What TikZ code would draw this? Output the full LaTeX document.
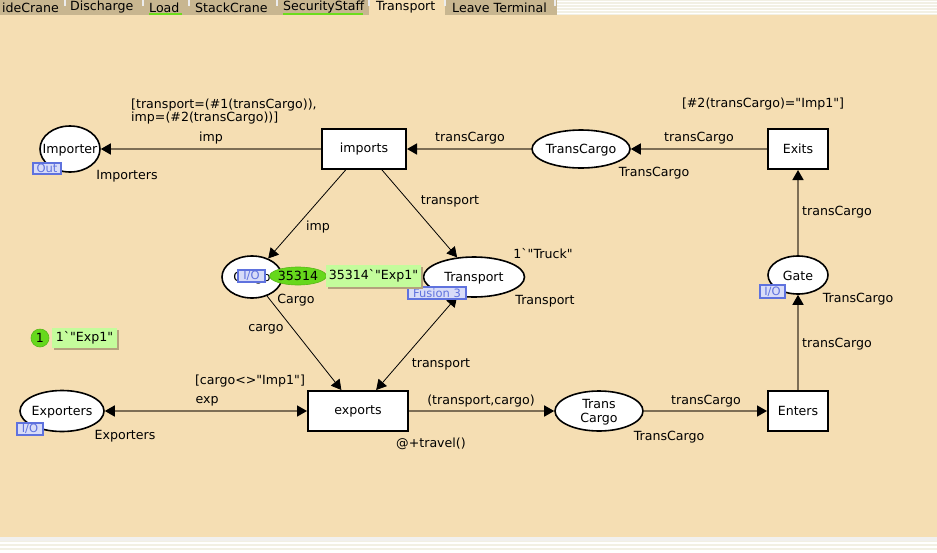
\documentclass[tikz,border=0pt]{standalone}
\usepackage{fontspec}
\setmainfont{DejaVu Sans}[Ligatures=TeXOff]
\usetikzlibrary{shapes.geometric,arrows.meta,shadows}
\definecolor{canvas}{HTML}{F5DEB3}
\definecolor{tabc}{HTML}{C8B690}
\definecolor{stripe}{HTML}{F2F0E4}
\definecolor{arcgrey}{HTML}{7D6E55}
\definecolor{tagfill}{HTML}{D8DCF8}
\definecolor{tagblue}{HTML}{5F72DE}
\definecolor{tokgreen}{HTML}{66D81C}
\definecolor{tokbox}{HTML}{C4FC9C}
\definecolor{shadowc}{HTML}{B4A27C}
\definecolor{tabline}{HTML}{6CDC1C}
\begin{document}
\begin{tikzpicture}[x=1pt,y=-1pt,
  font=\fontsize{12.6}{15}\selectfont,
  place/.style={ellipse,draw=black,line width=1.6pt,fill=white,inner sep=0pt},
  trans/.style={rectangle,draw=black,line width=2pt,fill=white,inner sep=0pt},
  txt/.style={inner sep=0pt,text=black},
  tag/.style={fill=tagfill,draw=tagblue,text=tagblue,line width=1.2pt,inner sep=0pt,
    font=\fontsize{11.5}{13}\selectfont},
  harc/.style={draw=arcgrey,line width=1.6pt},
  darc/.style={draw=black,line width=0.8pt},
  head/.tip={Triangle[length=10pt,width=11pt,color=black]},
  token/.style={fill=tokgreen,draw=tokgreen!85!black,line width=0.6pt,inner sep=0pt},
  tokenbox/.style={fill=tokbox,inner sep=0pt,
    drop shadow={shadow xshift=2pt,shadow yshift=-2pt,fill=shadowc,opacity=1}},
  tablabel/.style={inner sep=0pt,anchor=west}
]
\useasboundingbox (0,0) rectangle (937,552);
% canvas
\fill[canvas] (0,0) rectangle (937,552);
% tab bar
\fill[tabc] (0,0) rectangle (557,15);
\fill[canvas] (369,0) rectangle (445,15);
\fill[stripe] (557,0) rectangle (937,15);
\foreach \yy in {1,4,7,10,13} \fill[white] (557,\yy) rectangle (937,\yy+1);
\foreach \xx in {65,143,189,277,369,445,555}
  \draw[white!85!gray,line width=1.4pt] (\xx,0) -- (\xx,6);
\node[tablabel] (tab1) at (2,7.5) {ideCrane};
\node[tablabel] (tab2) at (70,7.5) {Discharge};
\node[tablabel] (tab3) at (149,7.5) {Load};
\node[tablabel] (tab4) at (195,7.5) {StackCrane};
\node[tablabel] (tab5) at (283,7.5) {SecurityStaff};
\node[tablabel] (tab6) at (376,7.5) {Transport};
\node[tablabel] (tab7) at (452,7.5) {Leave Terminal};
\draw[tabline,line width=1.3pt] (149,14) -- (182,14);
\draw[tabline,line width=1.3pt] (283,14) -- (363,14);
% bottom strip
\fill[stripe!70!gray!30!white] (0,537) rectangle (937,541);
\fill[stripe] (0,541) rectangle (937,552);
\foreach \yy in {542,546,550} \fill[white] (0,\yy) rectangle (937,\yy+1.5);

% places
\node[place,minimum width=60pt,minimum height=46pt] (importer) at (70,149) {};
\node[txt] (importer-t) at (70,150) {Importer};
\node[place,minimum width=98pt,minimum height=38pt] (tcup) at (581,149) {};
\node[txt] (tcup-t) at (581,150) {TransCargo};
\node[place,minimum width=60pt,minimum height=38pt] (gate) at (798,275) {};
\node[txt] (gate-t) at (798,276) {Gate};
\node[place,minimum width=88pt,minimum height=40pt] (tcdown) at (599,411) {};
\node[txt,align=center,font=\fontsize{12.6}{13.5}\selectfont] (tcdown-t) at (599,412) {Trans\\Cargo};
\node[place,minimum width=84pt,minimum height=41pt] (exporters) at (62,411) {};
\node[txt] (exporters-t) at (62,412) {Exporters};
\node[place,minimum width=60pt,minimum height=42pt] (cargo) at (252,277) {};
\node[txt] (cargo-t) at (252,278) {Cargo};
\node[place,minimum width=101pt,minimum height=40pt] (transport) at (474,277) {};
\node[txt] (transport-t) at (474,278) {Transport};

% transitions
\node[trans,minimum width=84pt,minimum height=40pt] (imports) at (364,149) {imports};
\node[trans,minimum width=60pt,minimum height=40pt] (exits) at (798,149) {Exits};
\node[trans,minimum width=60pt,minimum height=40pt] (enters) at (798,411) {Enters};
\node[trans,minimum width=100pt,minimum height=40pt] (exports) at (358,411) {exports};

% arcs
\draw[harc,-head] (imports) -- (importer);
\draw[harc,-head] (tcup) -- (imports);
\draw[harc,-head] (exits) -- (tcup);
\draw[harc,-head] (gate) -- (exits);
\draw[harc,-head] (enters) -- (gate);
\draw[harc,-head] (tcdown) -- (enters);
\draw[harc,-head] (exports) -- (tcdown);
\draw[harc,head-head] (exporters) -- (exports);
\draw[darc,-head] (imports) -- (cargo);
\draw[darc,-head] (imports) -- (transport);
\draw[darc,-head] (cargo) -- (exports);
\draw[darc,head-head] (transport) -- (exports);

% arc inscriptions and guards
\node[txt,anchor=west,align=left,font=\fontsize{12.6}{13}\selectfont] (g-imports) at (131,112)
  {[transport=(\#1(transCargo)),\\imp=(\#2(transCargo))]};
\node[txt] (l-imp1) at (211,138) {imp};
\node[txt] (l-tc1) at (470,138) {transCargo};
\node[txt] (l-tc2) at (699,138) {transCargo};
\node[txt] (g-exits) at (763,104) {[\#2(transCargo)="Imp1"]};
\node[txt] (l-tc3) at (837,212) {transCargo};
\node[txt] (l-tc4) at (837,344) {transCargo};
\node[txt] (l-tc5) at (706,401) {transCargo};
\node[txt] (l-pair) at (481,401) {(transport,cargo)};
\node[txt] (t-travel) at (431,444) {@+travel()};
\node[txt] (g-exports) at (250,381) {[cargo<>"Imp1"]};
\node[txt] (l-exp) at (207,401) {exp};
\node[txt] (l-cargo) at (266,329) {cargo};
\node[txt] (l-tr1) at (441,364) {transport};
\node[txt] (l-imp2) at (318,227) {imp};
\node[txt] (l-tr2) at (450,201) {transport};

% colour sets and initial markings
\node[txt] (s-importer) at (127,176) {Importers};
\node[txt] (s-tcup) at (654,173) {TransCargo};
\node[txt] (s-gate) at (858,299) {TransCargo};
\node[txt] (s-tcdown) at (669,437) {TransCargo};
\node[txt] (s-exporters) at (125,436) {Exporters};
\node[txt] (s-cargo) at (296,300) {Cargo};
\node[txt] (s-transport) at (545,301) {Transport};
\node[txt] (i-transport) at (543,254) {1\textasciigrave"Truck"};

% port and fusion tags
\node[tag,minimum width=28pt,minimum height=11pt] (tag-out) at (47,168.5) {Out};
\node[tag,minimum width=27pt,minimum height=12pt] (tag-cargo) at (251.5,276) {I/O};
\node[tag,minimum width=25pt,minimum height=13pt] (tag-gate) at (772.5,291.5) {I/O};
\node[tag,minimum width=26pt,minimum height=12pt] (tag-exp) at (30,429) {I/O};
\node[tag,minimum width=58pt,minimum height=12pt] (tag-fusion) at (437,293) {Fusion 3};

% current markings
\node[token,ellipse,minimum width=48pt,minimum height=18pt] (tok-cargo) at (298,276) {35314};
\node[tokenbox,minimum width=95pt,minimum height=22pt] (mark-cargo) at (373.5,276) {35314\textasciigrave"Exp1"};
\node[token,circle,minimum size=18pt] (tok-one) at (40,338) {1};
\node[tokenbox,minimum width=65pt,minimum height=20pt] (mark-one) at (84.5,338) {1\textasciigrave"Exp1"};
\end{tikzpicture}
\end{document}
